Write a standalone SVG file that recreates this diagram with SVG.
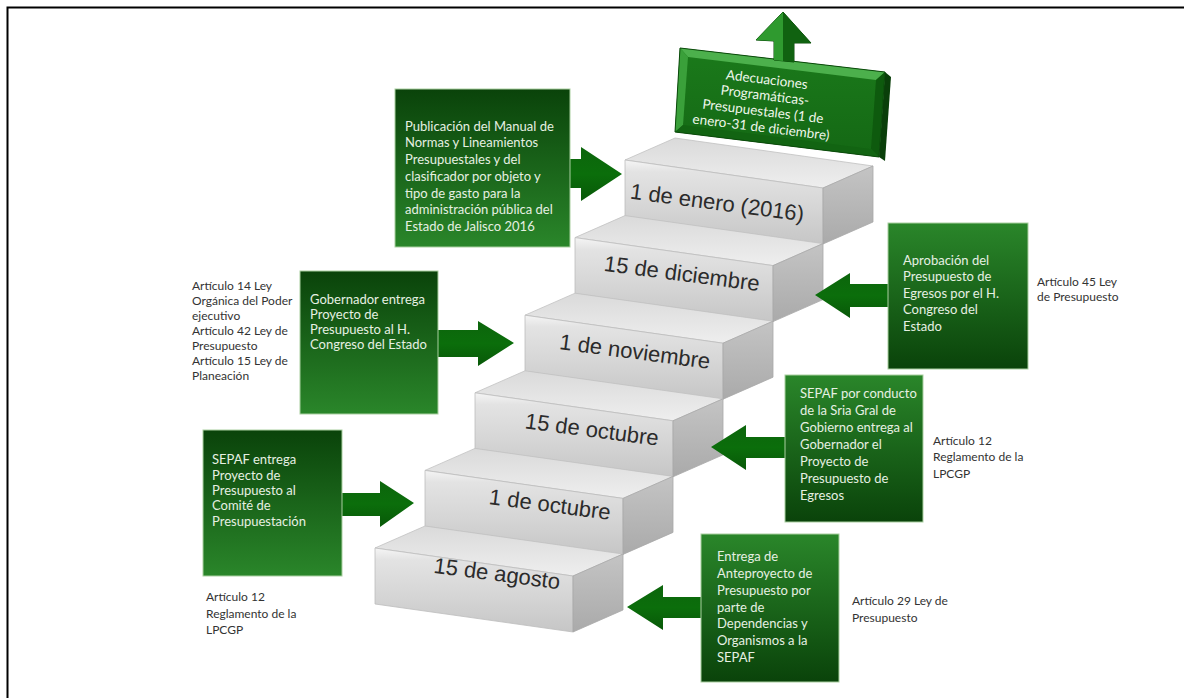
<svg xmlns="http://www.w3.org/2000/svg" width="1184" height="698" viewBox="0 0 1184 698">
<style>
.frame{stroke:#000;stroke-width:2;fill:none}
.step-label{font-family:"Liberation Sans",Arial,sans-serif;font-size:22px;fill:#2b2b2b;text-anchor:middle}
.box-text{font-family:Lato,"Noto Sans",sans-serif;font-size:13px;fill:#e6f0e2}
.note{font-family:Lato,"Noto Sans",sans-serif;font-size:12px;fill:#333}
.box-l{fill:url(#gBoxL);stroke:#a9cfa0;stroke-width:1}
.box-r{fill:url(#gBoxR);stroke:#a9cfa0;stroke-width:1}
.arrow{fill:url(#gArrow)}
.top-text{font-family:Lato,"Noto Sans",sans-serif;font-size:13.5px;fill:#eef6ea;text-anchor:middle}
</style>
<defs>
<linearGradient id="gBoxL" x1="0" y1="0" x2="0" y2="1">
<stop offset="0" stop-color="#0a430a"/><stop offset="1" stop-color="#2a862a"/>
</linearGradient>
<linearGradient id="gBoxR" x1="0" y1="0" x2="0" y2="1">
<stop offset="0" stop-color="#2a862a"/><stop offset="1" stop-color="#0a430a"/>
</linearGradient>
<linearGradient id="gArrow" x1="0" y1="0" x2="0" y2="1">
<stop offset="0" stop-color="#0c650c"/><stop offset="0.5" stop-color="#0b6e0b"/><stop offset="1" stop-color="#085808"/>
</linearGradient>
<linearGradient id="gFront" x1="0" y1="0" x2="0" y2="1">
<stop offset="0" stop-color="#f5f5f5"/><stop offset="0.14" stop-color="#e3e3e3"/><stop offset="0.55" stop-color="#d6d6d6"/><stop offset="1" stop-color="#c6c6c6"/>
</linearGradient>
<linearGradient id="gTread" x1="0" y1="1" x2="0" y2="0">
<stop offset="0" stop-color="#eeeeee"/><stop offset="1" stop-color="#dadada"/>
</linearGradient>
<linearGradient id="gSide" x1="0" y1="0" x2="0" y2="1">
<stop offset="0" stop-color="#c4c4c4"/><stop offset="1" stop-color="#aaaaaa"/>
</linearGradient>
<linearGradient id="gTopFace" x1="0" y1="0" x2="0" y2="1">
<stop offset="0" stop-color="#1b7a1b"/><stop offset="1" stop-color="#146814"/>
</linearGradient>
<g id="step">
<polygon points="0,0 50,-22 248,6 198,28" fill="url(#gTread)" stroke="#c2c2c2" stroke-width="0.8"/>
<polygon points="0,0 198,28 198,84 0,56" fill="url(#gFront)" stroke="#bdbdbd" stroke-width="0.8"/>
<polygon points="198,28 248,6 248,62 198,84" fill="url(#gSide)" stroke="#a8a8a8" stroke-width="0.8"/>
</g>
</defs>

<rect width="1184" height="698" fill="#fff"/>
<path class="frame" d="M7.5,698 V7.5 H1184"/>

<g id="stairs">
<use href="#step" transform="translate(625,160)"/>
<use href="#step" transform="translate(575,237.6)"/>
<use href="#step" transform="translate(525,315.2)"/>
<use href="#step" transform="translate(475,392.8)"/>
<use href="#step" transform="translate(425,470.4)"/>
<use href="#step" transform="translate(375,548)"/>
</g>

<g id="step-labels">
<text class="step-label" x="717" y="210" transform="rotate(7.5 717 204)">1 de enero (2016)</text>
<text class="step-label" x="682" y="281" transform="rotate(7.5 682 273)">15 de diciembre</text>
<text class="step-label" x="635" y="359" transform="rotate(7.5 635 351)">1 de noviembre</text>
<text class="step-label" x="592" y="437" transform="rotate(7.5 592 429)">15 de octubre</text>
<text class="step-label" x="550" y="512" transform="rotate(7.5 550 504)">1 de octubre</text>
<text class="step-label" x="497" y="581" transform="rotate(7.5 497 573)">15 de agosto</text>
</g>

<g id="top-node">
<polygon points="885,72 891,77 885,161 879,157" fill="#0a3f0a"/>
<polygon points="680,48 885,72 879,157 675,132" fill="url(#gTopFace)"/>
<polygon points="680,48 885,72 876,80 688,57" fill="#4cb04c"/>
<polygon points="680,48 688,57 683,125 675,132" fill="#3aa03a"/>
<polygon points="885,72 879,157 871,149 876,80" fill="#0e5a0e"/>
<polygon points="675,132 683,125 871,149 879,157" fill="#126412"/>
<polygon points="680,48 885,72 879,157 675,132" fill="none" stroke="#0b4a0b" stroke-width="1"/>
<polygon points="783,12 811,43 794,43 794,62 774,60 774,41 756,40" fill="#147214" stroke="#0a4a0a" stroke-width="1"/>
<polygon points="783,12 756,40 774,41 774,60 783,61" fill="#2f9a2f"/>
<polygon points="783,12 783,61 794,62 794,43 811,43" fill="#106210"/>
<g transform="rotate(7 764 103)">
<text class="top-text" x="764" y="84">Adecuaciones</text>
<text class="top-text" x="764" y="100">Programáticas-</text>
<text class="top-text" x="764" y="116">Presupuestales (1 de</text>
<text class="top-text" x="764" y="132">enero-31 de diciembre)</text>
</g>
</g>

<g id="connectors">
<polygon class="arrow" points="570,159 581,159 581,147 622,174 581,201 581,188 570,188"/>
<polygon class="arrow" points="438,330 478,330 478,321 514,343 478,366 478,357 438,357"/>
<polygon class="arrow" points="342,493 380,493 380,481 414,503 380,527 380,516 342,516"/>
<polygon class="arrow" points="888,284 850,284 850,273 815,295 850,318 850,307 888,307"/>
<polygon class="arrow" points="785,437 746,437 746,425 711,447 746,470 746,458 785,458"/>
<polygon class="arrow" points="701,597 663,597 663,585 627,607 663,630 663,618 701,618"/>
</g>

<g id="node-publicacion">
<rect class="box-l" x="395" y="89" width="175" height="158"/>
<text class="box-text" x="405" y="131">Publicación del Manual de</text>
<text class="box-text" x="405" y="147">Normas y Lineamientos</text>
<text class="box-text" x="405" y="164">Presupuestales y del</text>
<text class="box-text" x="405" y="181">clasificador por objeto y</text>
<text class="box-text" x="405" y="198">tipo de gasto para la</text>
<text class="box-text" x="405" y="214">administración pública del</text>
<text class="box-text" x="405" y="231">Estado de Jalisco 2016</text>
</g>

<g id="node-gobernador">
<rect class="box-l" x="300" y="271" width="138" height="143"/>
<text class="box-text" x="310" y="304">Gobernador entrega</text>
<text class="box-text" x="310" y="319">Proyecto de</text>
<text class="box-text" x="310" y="334">Presupuesto al H.</text>
<text class="box-text" x="310" y="349">Congreso del Estado</text>
</g>

<g id="note-art14">
<text class="note" x="192" y="290">Artículo 14 Ley</text>
<text class="note" x="192" y="305">Orgánica del Poder</text>
<text class="note" x="192" y="320">ejecutivo</text>
<text class="note" x="192" y="335">Artículo 42 Ley de</text>
<text class="note" x="192" y="350">Presupuesto</text>
<text class="note" x="192" y="365">Artículo 15 Ley de</text>
<text class="note" x="192" y="380">Planeación</text>
</g>

<g id="node-sepaf-entrega">
<rect class="box-l" x="203" y="430" width="139" height="146"/>
<text class="box-text" x="212" y="464">SEPAF  entrega</text>
<text class="box-text" x="212" y="480">Proyecto de</text>
<text class="box-text" x="212" y="495">Presupuesto al</text>
<text class="box-text" x="212" y="510">Comité de</text>
<text class="box-text" x="212" y="526">Presupuestación</text>
</g>

<g id="note-art12-left">
<text class="note" x="206" y="601">Artículo 12</text>
<text class="note" x="206" y="618">Reglamento de la</text>
<text class="note" x="206" y="634">LPCGP</text>
</g>

<g id="node-aprobacion">
<rect class="box-r" x="888" y="223" width="140" height="146"/>
<text class="box-text" x="903" y="265">Aprobación del</text>
<text class="box-text" x="903" y="281">Presupuesto de</text>
<text class="box-text" x="903" y="298">Egresos por el H.</text>
<text class="box-text" x="903" y="314">Congreso del</text>
<text class="box-text" x="903" y="331">Estado</text>
</g>

<g id="note-art45">
<text class="note" x="1037" y="286">Artículo 45 Ley</text>
<text class="note" x="1037" y="301">de Presupuesto</text>
</g>

<g id="node-sepaf-conducto">
<rect class="box-r" x="785" y="375" width="138" height="147"/>
<text class="box-text" x="800" y="398">SEPAF por conducto</text>
<text class="box-text" x="800" y="415">de la Sria Gral de</text>
<text class="box-text" x="800" y="432">Gobierno entrega al</text>
<text class="box-text" x="800" y="449">Gobernador el</text>
<text class="box-text" x="800" y="466">Proyecto de</text>
<text class="box-text" x="800" y="483">Presupuesto de</text>
<text class="box-text" x="800" y="500">Egresos</text>
</g>

<g id="note-art12-right">
<text class="note" x="933" y="445">Artículo 12</text>
<text class="note" x="933" y="461">Reglamento de la</text>
<text class="note" x="933" y="478">LPCGP</text>
</g>

<g id="node-entrega">
<rect class="box-r" x="701" y="534" width="138" height="148"/>
<text class="box-text" x="717" y="561">Entrega de</text>
<text class="box-text" x="717" y="578">Anteproyecto de</text>
<text class="box-text" x="717" y="595">Presupuesto por</text>
<text class="box-text" x="717" y="612">parte de</text>
<text class="box-text" x="717" y="628">Dependencias y</text>
<text class="box-text" x="717" y="645">Organismos a la</text>
<text class="box-text" x="717" y="662">SEPAF</text>
</g>

<g id="note-art29">
<text class="note" x="852" y="605">Artículo 29 Ley de</text>
<text class="note" x="852" y="622">Presupuesto</text>
</g>
</svg>
